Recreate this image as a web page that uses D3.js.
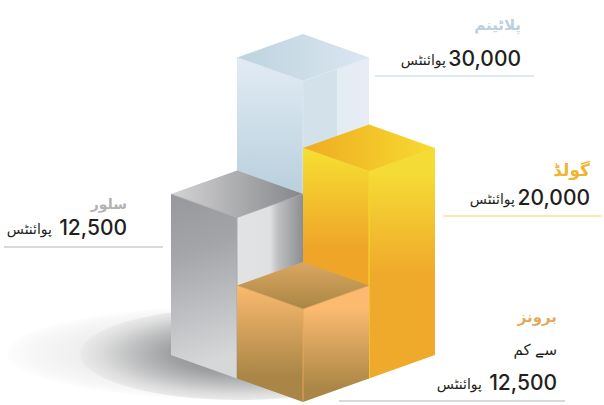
<!DOCTYPE html>
<html lang="ur">
<head>
<meta charset="utf-8">
<script src="https://cdn.jsdelivr.net/npm/d3@7"></script>
<style>
  html, body { margin: 0; padding: 0; background: #fff; }
  svg { display: block; }
  .num { font-family: Inter, "Open Sans", sans-serif; font-weight: 500; font-size: 21px; fill: #231f20; }
  .urdu { font-family: "DejaVu Sans", sans-serif; direction: rtl; }
</style>
</head>
<body>
<div id="chart"></div>
<script>
// chart data
var categories = ["پلاٹینم", "سلور", "گولڈ", "برونز"];
var points = [30000, 12500, 20000, 5000];
var pointLabels = ["30,000", "12,500", "20,000", "12,500"];
var gridCol = [0, 0, 1, 1];
var gridRow = [0, 1, 0, 1];
var unitWord = "پوائنٹس";
var lessThanWord = "سے کم";

function init() {
    var width = 604;
    var height = 405;

    var svg = d3.select("#chart").append("svg")
        .attr("width", width)
        .attr("height", height);
    var defs = svg.append("defs");

    // the cubes are not to scale in the original, so the height scale is piecewise
    var heightScale = d3.scaleLinear()
        .domain([5000, 12500, 20000, 30000])
        .range([93, 161, 207, 274]);

    // isometric ground plane
    var isoX = d3.scaleLinear().domain([0, 1]).range([0, 66]);
    var isoY = d3.scaleLinear().domain([0, 1]).range([0, 23.5]);
    var originX = 303, originY = 308;

    function project(col, row, h) {
        return [originX + isoX(col) - isoX(row), originY + isoY(col) + isoY(row) - h];
    }

    var line = d3.line().curve(d3.curveLinearClosed);

    function gradient(id, x1, y1, x2, y2, stops) {
        var g = defs.append("linearGradient").attr("id", id)
            .attr("gradientUnits", "userSpaceOnUse")
            .attr("x1", x1).attr("y1", y1).attr("x2", x2).attr("y2", y2);
        stops.forEach(function (s) {
            g.append("stop").attr("offset", s[0]).attr("stop-color", s[1]);
        });
        return "url(#" + id + ")";
    }

    // floor shadow: pale outer ellipse, darker inner one, only visible left of the cubes
    defs.append("clipPath").attr("id", "shadow-clip")
        .append("rect").attr("x", 0).attr("y", 0).attr("width", 303).attr("height", height);

    var shadowGroup = svg.append("g").attr("clip-path", "url(#shadow-clip)");

    var shadowOuter = defs.append("radialGradient").attr("id", "shadow-outer");
    [[0, "#eeeeee"], [0.7, "#efefef"], [0.9, "#f7f7f7"], [1, "#fdfdfd"]].forEach(function (s) {
        shadowOuter.append("stop").attr("offset", s[0]).attr("stop-color", s[1]);
    });
    shadowGroup.append("ellipse")
        .attr("cx", 240).attr("cy", 353).attr("rx", 233).attr("ry", 47)
        .attr("fill", "url(#shadow-outer)");

    var shadowInner = defs.append("radialGradient").attr("id", "shadow-inner");
    [[0, "#7f8082"], [0.44, "#a0a1a3"], [0.7, "#c2c3c4"], [0.87, "#dcdcdc"], [1, "#eaeaea"]].forEach(function (s) {
        shadowInner.append("stop").attr("offset", s[0]).attr("stop-color", s[1]);
    });
    shadowGroup.append("ellipse")
        .attr("cx", 240).attr("cy", 354).attr("rx", 160).attr("ry", 46)
        .attr("fill", "url(#shadow-inner)");

    // per cube colours: left face, right face, top face
    var paint = [
        function (c) {
            return {
                left: gradient("p-l", 0, c.top, 0, c.top + 135, [[0, "#e2ebf6"], [0.35, "#d3e2ec"], [1, "#b9d0dc"]]),
                right: gradient("p-r", c.front[0], 0, c.right[0], 0, [[0, "#d2e1ea"], [0.51, "#d2e1ea"], [0.52, "#e3ebf3"], [1, "#e6edf5"]]),
                topFace: gradient("p-t", c.left[0], 0, c.right[0], 0, [[0, "#bdd3de"], [1, "#dbe6f1"]]),
                edge: "#dce8ef"
            };
        },
        function (c) {
            return {
                left: gradient("s-l", c.left[0], c.left[1], c.left[0] + 50, c.left[1] + 165, [[0, "#97989b"], [0.35, "#a4a5a8"], [1, "#d6d7d9"]]),
                right: gradient("s-r", c.front[0], 0, c.right[0], 0, [[0, "#e2e3e5"], [0.5, "#dfe0e2"], [0.62, "#bfc0c2"], [1, "#8d8e91"]]),
                topFace: gradient("s-t", c.left[0], 0, c.right[0], 0, [[0, "#d4d4d5"], [1, "#85868a"]]),
                edge: "#a8a9ac"
            };
        },
        function (c) {
            return {
                left: gradient("g-l", 0, c.left[1], 0, c.left[1] + 100, [[0, "#f6e032"], [1, "#efa528"]]),
                right: gradient("g-r", 0, c.front[1], 0, c.front[1] + 100, [[0, "#f5dc35"], [1, "#f0aa2b"]]),
                topFace: gradient("g-t", c.left[0], 0, c.right[0], 0, [[0, "#eeac22"], [1, "#f7da30"]]),
                edge: "#f7d92f"
            };
        },
        function (c) {
            return {
                left: gradient("b-l", 0, c.left[1], 0, c.left[1] + 90, [[0, "#fbba70"], [1, "#aa8646"]]),
                right: gradient("b-r", 0, c.front[1], 0, c.front[1] + 80, [[0, "#fbba70"], [1, "#aa8646"]]),
                topFace: gradient("b-t", 0, c.back[1], 0, c.front[1], [[0, "#dba761"], [1, "#a98644"]]),
                edge: "#e5a55c"
            };
        }
    ];

    var cubes = points.map(function (v, i) {
        var h = heightScale(v), col = gridCol[i], row = gridRow[i];
        return {
            i: i,
            back: project(col, row, h),
            right: project(col + 1, row, h),
            front: project(col + 1, row + 1, h),
            left: project(col, row + 1, h),
            rightBase: project(col + 1, row, 0),
            frontBase: project(col + 1, row + 1, 0),
            leftBase: project(col, row + 1, 0),
            top: project(col, row + 1, h)[1]
        };
    });

    var cube = svg.selectAll("g.cube").data(cubes).enter().append("g").attr("class", "cube");

    cube.each(function (c) {
        var g = d3.select(this);
        var p = paint[c.i](c);
        g.append("path").attr("d", line([c.left, c.front, c.frontBase, c.leftBase])).attr("fill", p.left);
        g.append("path").attr("d", line([c.front, c.right, c.rightBase, c.frontBase])).attr("fill", p.right);
        g.append("path").attr("d", line([c.back, c.right, c.front, c.left])).attr("fill", p.topFace);
        g.append("path").attr("d", d3.line()([c.left, c.front, c.right]))
            .attr("fill", "none").attr("stroke", p.edge).attr("stroke-width", 0.7);
        g.append("path").attr("d", d3.line()([c.front, c.frontBase]))
            .attr("fill", "none").attr("stroke", p.edge).attr("stroke-width", 1);
    });

    // labels: rule, number right edge and baseline, heading
    var labels = [
        { rule: [375, 534, 76], ruleColor: "#bcd7e3", x: 521, y: 66, color: "#bccfdc", headY: 30, headX: 521, headSize: 15 },
        { rule: [4, 163, 247], ruleColor: "#b3b3b3", x: 127, y: 235, color: "#b1b2b4", headY: 209, headX: 127, headSize: 14 },
        { rule: [443, 602, 216], ruleColor: "#f6d55c", x: 590, y: 205, color: "#f0b52e", headY: 176, headX: 590, headSize: 17 },
        { rule: [339, 565, 401], ruleColor: "#b3b3b3", x: 557, y: 390, color: "#e0ab60", headY: 322, headX: 557, headSize: 15 }
    ];

    var label = svg.selectAll("g.label").data(labels).enter().append("g").attr("class", "label");

    label.append("line")
        .attr("x1", function (d) { return d.rule[0]; })
        .attr("x2", function (d) { return d.rule[1]; })
        .attr("y1", function (d) { return d.rule[2]; })
        .attr("y2", function (d) { return d.rule[2]; })
        .attr("stroke", function (d) { return d.ruleColor; })
        .attr("stroke-width", 1.2);

    label.append("text").attr("class", "urdu")
        .attr("x", function (d) { return d.headX; })
        .attr("y", function (d) { return d.headY; })
        .attr("text-anchor", "start")
        .attr("font-size", function (d) { return d.headSize; })
        .attr("font-weight", "bold")
        .attr("fill", function (d) { return d.color; })
        .text(function (d, i) { return categories[i]; });

    label.append("text").attr("class", "num")
        .attr("x", function (d) { return d.x; })
        .attr("y", function (d) { return d.y; })
        .attr("text-anchor", "end")
        .text(function (d, i) { return pointLabels[i]; });

    label.append("text").attr("class", "urdu")
        .attr("x", function (d) { return d.x - 75; })
        .attr("y", function (d) { return d.y - 1; })
        .attr("text-anchor", "start")
        .attr("font-size", 14)
        .attr("fill", "#231f20")
        .text(unitWord);

    svg.append("text").attr("class", "urdu")
        .attr("x", 557).attr("y", 355)
        .attr("text-anchor", "start")
        .attr("font-size", 15)
        .attr("fill", "#231f20")
        .text(lessThanWord);
}

window.onload = init;
</script>
</body>
</html>
